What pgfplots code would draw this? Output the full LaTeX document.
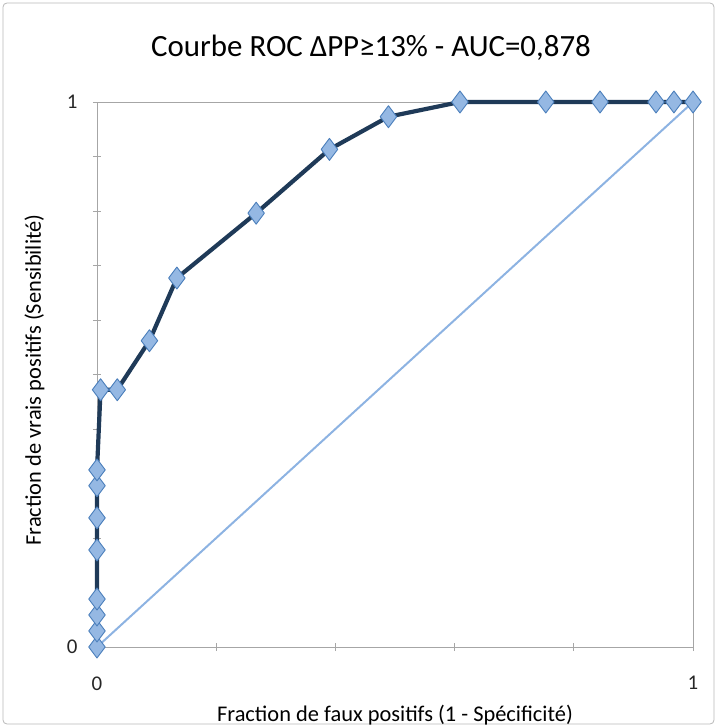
\documentclass[border=0pt]{standalone}
\usepackage{pgfplots}
\pgfplotsset{compat=1.18}
\usepackage{fontspec}
\setmainfont{Carlito}
\definecolor{navy}{HTML}{1F3A58}
\definecolor{mfill}{HTML}{95B8E3}
\definecolor{medge}{HTML}{4A7EBB}
\definecolor{diag}{HTML}{8DB3E2}
\definecolor{axgray}{HTML}{A6A6A6}
\begin{document}
\begin{tikzpicture}[x=1bp,y=1bp]
\path[use as bounding box] (-97bp,-80bp) rectangle (620bp,647bp);
\draw[axgray!80, line width=0.8bp, rounded corners=4bp] (-94bp,-77bp) rectangle (617bp,644bp);
\begin{axis}[
  at={(0,0)}, anchor=origin,
  scale only axis, width=596bp, height=545bp,
  xmin=0, xmax=1, ymin=0, ymax=1,
  axis line style={axgray, line width=0.8bp},
  xtick={0,1}, ytick={0,1},
  minor xtick={0.2,0.4,0.6,0.8},
  minor ytick={0.1,0.2,0.3,0.4,0.5,0.6,0.7,0.8,0.9},
  xtick pos=bottom, ytick pos=left,
  tick align=center,
  major tick length=8bp, minor tick length=8bp,
  tick style={axgray, line width=0.8bp},
  xticklabels={0,1}, yticklabels={0,1},
  /pgf/number format/assume math mode=true,
  ticklabel style={font=\fontsize{21}{24}\selectfont, text=black!85},
  xticklabel style={yshift=-22bp},
  yticklabel style={xshift=-12bp},
  xlabel={Fraction de faux positifs (1 - Spécificité)},
  ylabel={Fraction de vrais positifs (Sensibilité)},
  label style={font=\fontsize{22.5}{26}\selectfont, text=black},
  xlabel style={at={(axis description cs:0.5,0)}, anchor=base, yshift=-74bp},
  ylabel style={at={(axis description cs:0,0.49)}, anchor=base, yshift=56bp},
  clip=false,
]
\addplot[diag, line width=2bp, no marks] coordinates {(0,0) (1,1)};
\addplot[navy, line width=4.2bp, line join=round,
  mark=diamond*, mark size=11bp,
  mark options={fill=mfill, draw=medge, line width=0.9bp, solid}]
coordinates {
(0,0) (0,0.0294) (0,0.0588) (0,0.088) (0,0.178) (0,0.237) (0,0.296) (0,0.325)
(0.006,0.472) (0.034,0.472) (0.088,0.562) (0.134,0.677) (0.267,0.796)
(0.390,0.913) (0.489,0.973) (0.609,1) (0.753,1) (0.844,1) (0.938,1) (0.968,1) (1,1)
};
\end{axis}
\node[font=\fontsize{31}{36}\selectfont, anchor=base] at (274bp,590bp) {Courbe ROC ΔPP≥13\% - AUC=0,878};
\end{tikzpicture}
\end{document}
